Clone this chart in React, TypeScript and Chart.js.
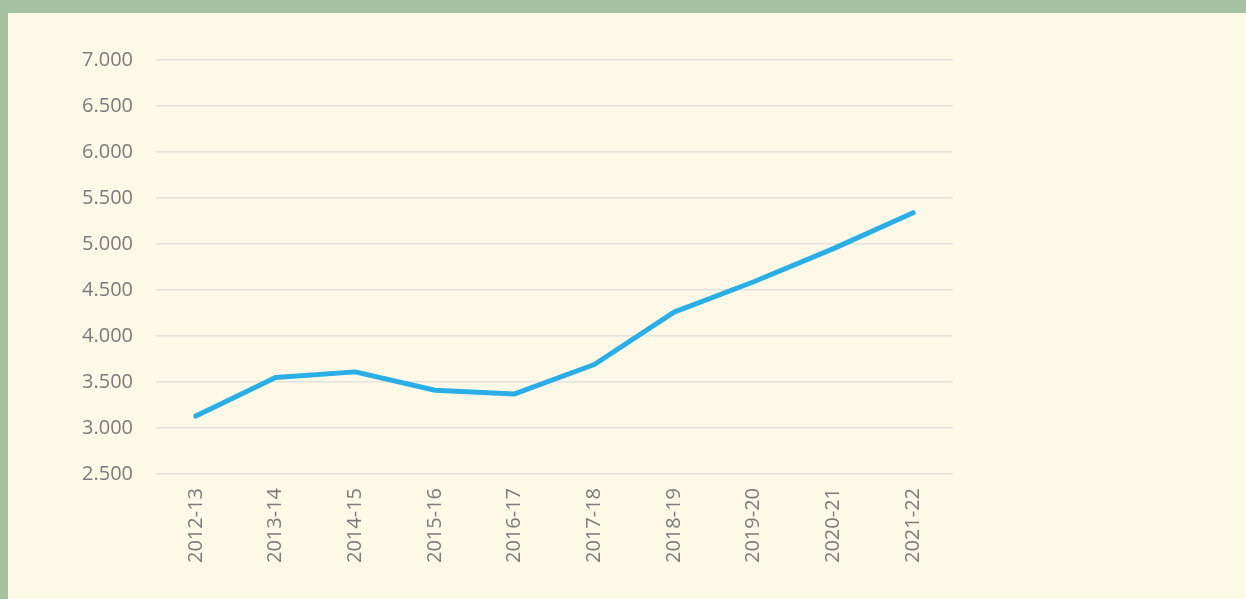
import React, { useEffect, useRef } from "react";
import { Chart, registerables } from "chart.js";

Chart.register(...registerables);

const categories = [
  "2012-13",
  "2013-14",
  "2014-15",
  "2015-16",
  "2016-17",
  "2017-18",
  "2018-19",
  "2019-20",
  "2020-21",
  "2021-22",
];

const seriesValues = [3130, 3550, 3610, 3410, 3370, 3690, 4260, 4590, 4950, 5340];

const yMin = 2500;
const yMax = 7000;
const yStep = 500;

const formatThousands = (v: number) =>
  Math.round(v)
    .toString()
    .replace(/\B(?=(\d{3})+(?!\d))/g, ".");

export default function App() {
  const canvasRef = useRef<HTMLCanvasElement | null>(null);

  useEffect(() => {
    if (!canvasRef.current) return;
    const chart = new Chart(canvasRef.current, {
      type: "line",
      data: {
        labels: categories,
        datasets: [
          {
            data: seriesValues,
            borderColor: "#2aaee5",
            borderWidth: 5,
            pointRadius: 0,
            pointHoverRadius: 0,
            borderCapStyle: "round",
            borderJoinStyle: "round",
            tension: 0,
            fill: false,
          },
        ],
      },
      options: {
        responsive: false,
        animation: false,
        events: [],
        layout: {
          padding: { top: 47, right: 293, bottom: 0, left: 0 },
        },
        plugins: {
          legend: { display: false },
          tooltip: { enabled: false },
        },
        scales: {
          x: {
            offset: true,
            grid: { display: false, drawTicks: false },
            border: { display: false },
            ticks: {
              minRotation: 90,
              maxRotation: 90,
              padding: 14,
              color: "#7b7b7b",
              font: { family: "'Open Sans', sans-serif", size: 20 },
              autoSkip: false,
            },
            afterFit: (scale: any) => {
              scale.height = 125;
            },
          },
          y: {
            min: yMin,
            max: yMax,
            grid: {
              color: "#e4e2dc",
              lineWidth: 1.5,
              drawTicks: false,
            },
            border: { display: false },
            ticks: {
              stepSize: yStep,
              padding: 23,
              color: "#7b7b7b",
              font: { family: "'Open Sans', sans-serif", size: 20 },
              callback: (v: any) => formatThousands(Number(v)),
            },
            afterFit: (scale: any) => {
              scale.width = 148;
            },
          },
        },
      },
    });
    return () => chart.destroy();
  }, []);

  return (
    <div
      style={{
        position: "fixed",
        left: 0,
        top: 0,
        width: 1246,
        height: 599,
        background: "#a4c29f",
        overflow: "hidden",
      }}
    >
      <div
        style={{
          position: "absolute",
          left: 8,
          top: 13,
          width: 1238,
          height: 586,
          background: "#fef8e6",
        }}
      >
        <canvas ref={canvasRef} width={1238} height={586} style={{ display: "block" }} />
      </div>
    </div>
  );
}
